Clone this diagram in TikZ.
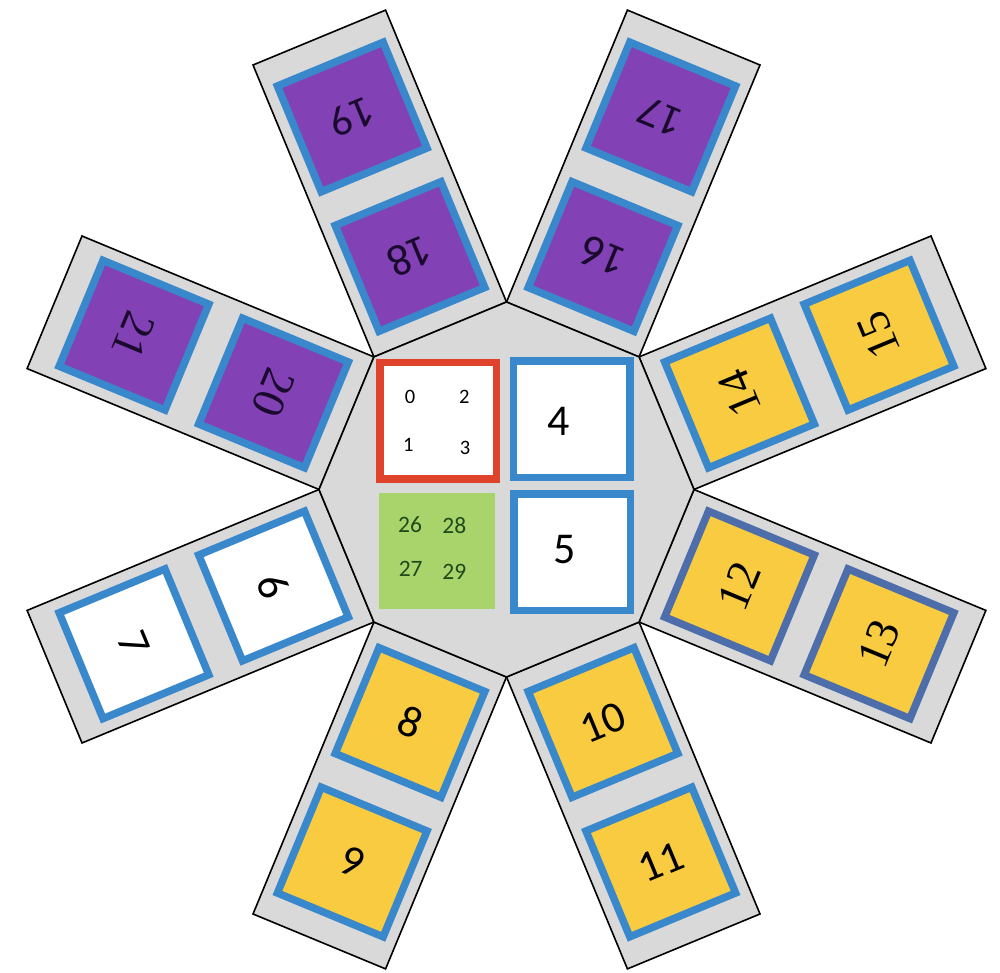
\documentclass[tikz,border=0pt]{standalone}
\usepackage{fontspec}
\setmainfont{Carlito}
\newfontfamily\serifnumfont{Liberation Serif}
\definecolor{armgray}{HTML}{D9D9D9}
\definecolor{tileblue}{HTML}{3A88CC}
\definecolor{tiledark}{HTML}{4D6EAA}
\definecolor{tilepurple}{HTML}{8241B4}
\definecolor{tileyellow}{HTML}{F9CB40}
\definecolor{tilered}{HTML}{E0432B}
\definecolor{tilegreen}{HTML}{A9D46C}
\definecolor{greentext}{HTML}{1F4A1A}
\definecolor{purpletext}{HTML}{1A0A2E}
\tikzset{
  armbox/.style={fill=armgray, draw=black, line width=1.6pt, line join=miter},
  tilepath/.style={line width=7.5pt},
  tile/.style={rectangle, minimum size=114.5pt, inner sep=0pt, line width=7.5pt},
  sanslab/.style={font=\fontsize{44}{44}\selectfont, inner sep=0pt},
  seriflab/.style={font=\serifnumfont\fontsize{46}{46}\selectfont, inner sep=0pt},
  smalllab/.style={font=\fontsize{20.5}{20.5}\selectfont, inner sep=0pt},
  greenlab/.style={font=\fontsize{23.5}{23.5}\selectfont, text=greentext, inner sep=0pt},
  biglab/.style={font=\fontsize{44}{44}\selectfont, inner sep=0pt},
}
\newcommand{\armunit}[6]{%
  \begin{scope}[shift={(#1:173.2pt)}, rotate=#1-90]
    \draw[armbox] (-71.75,0) rectangle (71.75,316);
    \draw[tilepath, fill=#4, draw=#5] (-57.25,21.75) rectangle (57.25,136.25);
    \draw[tilepath, fill=#4, draw=#5] (-57.25,172.75) rectangle (57.25,287.25);
    \node[#6, rotate=#1+90] (t#2) at (0,79) {#2};
    \node[#6, rotate=#1+90] (t#3) at (0,230) {#3};
  \end{scope}}
\begin{document}
\begin{tikzpicture}[x=1pt,y=1pt]
\useasboundingbox (-506.5,-483.5) rectangle (493.5,489.5);
% arms
\armunit{22.5}{14}{15}{tileyellow}{tileblue}{seriflab}
\armunit{67.5}{16}{17}{tilepurple}{tileblue}{sanslab, text=purpletext}
\armunit{112.5}{18}{19}{tilepurple}{tileblue}{sanslab, text=purpletext}
\armunit{157.5}{20}{21}{tilepurple}{tileblue}{seriflab, text=purpletext}
\armunit{202.5}{6}{7}{white}{tileblue}{sanslab}
\armunit{247.5}{8}{9}{tileyellow}{tileblue}{sanslab}
\armunit{292.5}{10}{11}{tileyellow}{tileblue}{sanslab}
\armunit{337.5}{12}{13}{tileyellow}{tiledark}{seriflab}
% central octagon
\draw[armbox] (0:187.5pt) -- (45:187.5pt) -- (90:187.5pt) -- (135:187.5pt)
  -- (180:187.5pt) -- (225:187.5pt) -- (270:187.5pt) -- (315:187.5pt) -- cycle;
% central tiles
\node[tile, minimum size=116.5pt, fill=white, draw=tilered] (red) at (-68.5,68.5) {};
\node[tile, minimum size=116.5pt, fill=white, draw=tileblue] (b4) at (65,70) {};
\node[tile, minimum size=116.5pt, fill=white, draw=tileblue] (b5) at (65.5,-63) {};
\node[rectangle, minimum size=116pt, inner sep=0pt, fill=tilegreen] (green) at (-70,-62) {};
% labels
\node[smalllab] (l0) at (-96.5,92.8) {0};
\node[smalllab] (l2) at (-42.2,92.8) {2};
\node[smalllab] (l1) at (-98.2,44.5) {1};
\node[smalllab] (l3) at (-41.5,41.2) {3};
\node[greenlab] (l26) at (-96.5,-34.8) {26};
\node[greenlab] (l28) at (-52.2,-36.2) {28};
\node[greenlab] (l27) at (-95.8,-79.2) {27};
\node[greenlab] (l29) at (-52.2,-82.8) {29};
\node[biglab] (l4) at (51.8,67.8) {4};
\node[biglab] (l5) at (58.5,-60.5) {5};
\end{tikzpicture}
\end{document}
